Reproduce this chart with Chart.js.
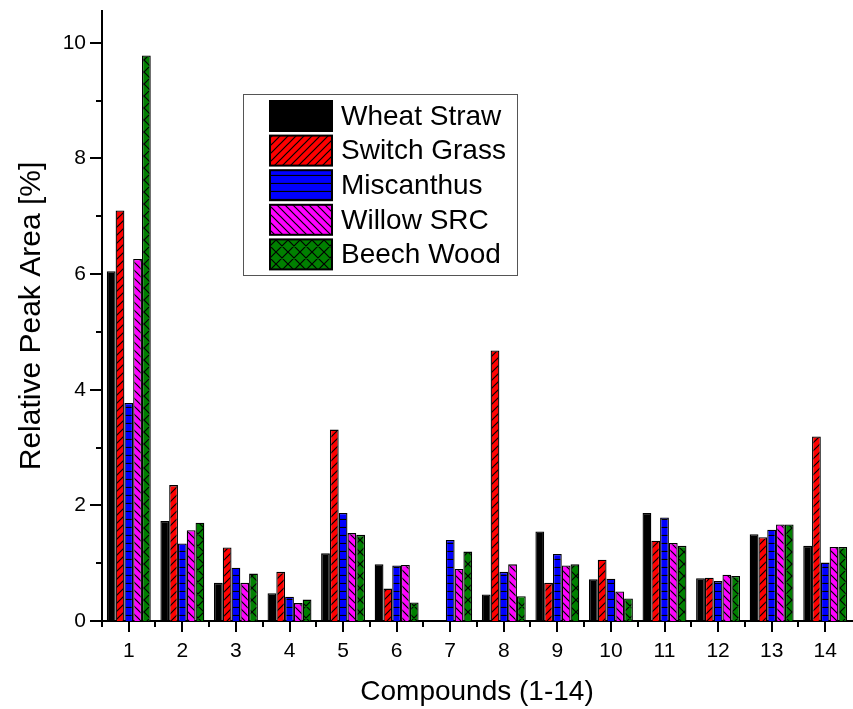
<!DOCTYPE html>
<html>
<head>
<meta charset="utf-8">
<script src="https://cdn.jsdelivr.net/npm/chart.js@4.4.0/dist/chart.umd.min.js"></script>
<style>
html, body { margin: 0; padding: 0; background: #fff; }
#wrap { width: 853px; height: 709px; }
</style>
</head>
<body>
<div id="wrap"><canvas id="barChart"></canvas></div>
<script>
// data
var compounds = ['1', '2', '3', '4', '5', '6', '7', '8', '9', '10', '11', '12', '13', '14'];
var wheatStraw  = [6.05, 1.73, 0.66, 0.48, 1.17, 0.98, 0,    0.46, 1.55, 0.72, 1.87, 0.74, 1.50, 1.30];
var switchGrass = [7.10, 2.35, 1.27, 0.85, 3.31, 0.56, 0,    4.68, 0.66, 1.06, 1.39, 0.75, 1.45, 3.19];
var miscanthus  = [3.77, 1.34, 0.92, 0.42, 1.87, 0.96, 1.40, 0.85, 1.16, 0.73, 1.79, 0.69, 1.58, 1.01];
var willowSRC   = [6.26, 1.57, 0.66, 0.31, 1.52, 0.97, 0.90, 0.98, 0.96, 0.51, 1.35, 0.80, 1.67, 1.28];
var beechWood   = [9.78, 1.70, 0.82, 0.37, 1.49, 0.32, 1.20, 0.43, 0.98, 0.39, 1.30, 0.78, 1.67, 1.28];
var yTicks = [0, 2, 4, 6, 8, 10];

var FONT = "'Liberation Sans', Arial, sans-serif";

// hatch fills
function hatch(color, kind, size) {
  var c = document.createElement('canvas');
  c.width = size; c.height = size;
  var g = c.getContext('2d');
  g.fillStyle = color;
  g.fillRect(0, 0, size, size);
  g.strokeStyle = '#000';
  g.lineWidth = 1.2;
  g.beginPath();
  if (kind == 'fwd' || kind == 'cross') {
    g.moveTo(-2, size + 2); g.lineTo(size + 2, -2);
    g.moveTo(-2, 2); g.lineTo(2, -2);
    g.moveTo(size - 2, size + 2); g.lineTo(size + 2, size - 2);
  }
  if (kind == 'back' || kind == 'cross') {
    g.moveTo(-2, -2); g.lineTo(size + 2, size + 2);
    g.moveTo(size - 2, -2); g.lineTo(size + 2, 2);
    g.moveTo(-2, size - 2); g.lineTo(2, size + 2);
  }
  if (kind == 'horiz') {
    g.moveTo(0, size - 0.5); g.lineTo(size, size - 0.5);
  }
  g.stroke();
  return g.createPattern(c, 'repeat');
}

var extras = {
  id: 'extras',
  afterDraw: function(chart) {
    var ctx = chart.ctx, x = chart.scales.x, y = chart.scales.y;
    ctx.save();
    ctx.strokeStyle = '#000';
    ctx.lineWidth = 2;
    ctx.beginPath();
    var step = x.getPixelForValue(1) - x.getPixelForValue(0);
    for (var i = 0; i < compounds.length; i++) {
      var px = Math.round(x.getPixelForValue(i));
      ctx.moveTo(px, y.bottom); ctx.lineTo(px, y.bottom + 11);
      var ex = Math.round(px - step / 2);
      ctx.moveTo(ex, y.bottom); ctx.lineTo(ex, y.bottom + 6);
    }
    for (var v = 0; v <= 10; v++) {
      var py = Math.round(y.getPixelForValue(v));
      ctx.moveTo(x.left, py); ctx.lineTo(x.left - (v % 2 == 0 ? 12 : 6), py);
    }
    ctx.stroke();

    // legend
    ctx.fillStyle = '#fff';
    ctx.fillRect(243, 94, 274, 181);
    ctx.strokeStyle = '#555';
    ctx.lineWidth = 1;
    ctx.strokeRect(243.5, 94.5, 274, 181);
    ctx.font = '28px ' + FONT;
    ctx.textBaseline = 'middle';
    chart.data.datasets.forEach(function(ds, k) {
      var top = 101 + k * 34.6;
      ctx.fillStyle = ds.backgroundColor;
      ctx.fillRect(270, top, 62, 30);
      ctx.strokeStyle = '#000';
      ctx.lineWidth = 2;
      ctx.strokeRect(270, top, 62, 30);
      ctx.fillStyle = '#000';
      ctx.fillText(ds.label, 341, top + 16);
    });
    ctx.restore();
  }
};

var ctxB = document.getElementById('barChart').getContext('2d');
var myBarChart = new Chart(ctxB, {
  type: 'bar',
  data: {
    labels: compounds,
    datasets: [
      { label: 'Wheat Straw', data: wheatStraw, backgroundColor: '#000000' },
      { label: 'Switch Grass', data: switchGrass, backgroundColor: hatch('#ff0000', 'fwd', 8) },
      { label: 'Miscanthus', data: miscanthus, backgroundColor: hatch('#0000ff', 'horiz', 8) },
      { label: 'Willow SRC', data: willowSRC, backgroundColor: hatch('#ff00ff', 'back', 8) },
      { label: 'Beech Wood', data: beechWood, backgroundColor: hatch('#008000', 'cross', 12) }
    ]
  },
  options: {
    responsive: true,
    maintainAspectRatio: false,
    animation: false,
    layout: { padding: { top: 11, right: 1, left: 0, bottom: 0 } },
    datasets: {
      bar: { categoryPercentage: 0.82, barPercentage: 1, borderColor: '#000', borderWidth: 1.3 }
    },
    plugins: {
      legend: { display: false },
      tooltip: { enabled: false }
    },
    scales: {
      x: {
        grid: { display: false },
        border: { display: true, color: '#000', width: 2 },
        ticks: { color: '#000', font: { family: FONT, size: 21 }, padding: 10, maxRotation: 0, autoSkip: false },
        title: { display: true, text: 'Compounds (1-14)', color: '#000', font: { family: FONT, size: 28 }, padding: 0 },
        afterFit: function(s) { s.height = 88; s.paddingLeft = 0; s.paddingRight = 0; }
      },
      y: {
        min: 0,
        max: 10.55,
        afterBuildTicks: function(s) { s.ticks = yTicks.map(function(v) { return { value: v }; }); },
        grid: { display: false },
        border: { display: true, color: '#000', width: 2 },
        ticks: { color: '#000', font: { family: FONT, size: 21 }, padding: 8 },
        title: { display: true, text: 'Relative Peak Area [%]', color: '#000', font: { family: FONT, size: 30 }, padding: { top: 14, bottom: 0 } },
        afterFit: function(s) { s.width = 102; s.paddingTop = 0; s.paddingBottom = 0; }
      }
    }
  },
  plugins: [extras]
});
</script>
</body>
</html>
